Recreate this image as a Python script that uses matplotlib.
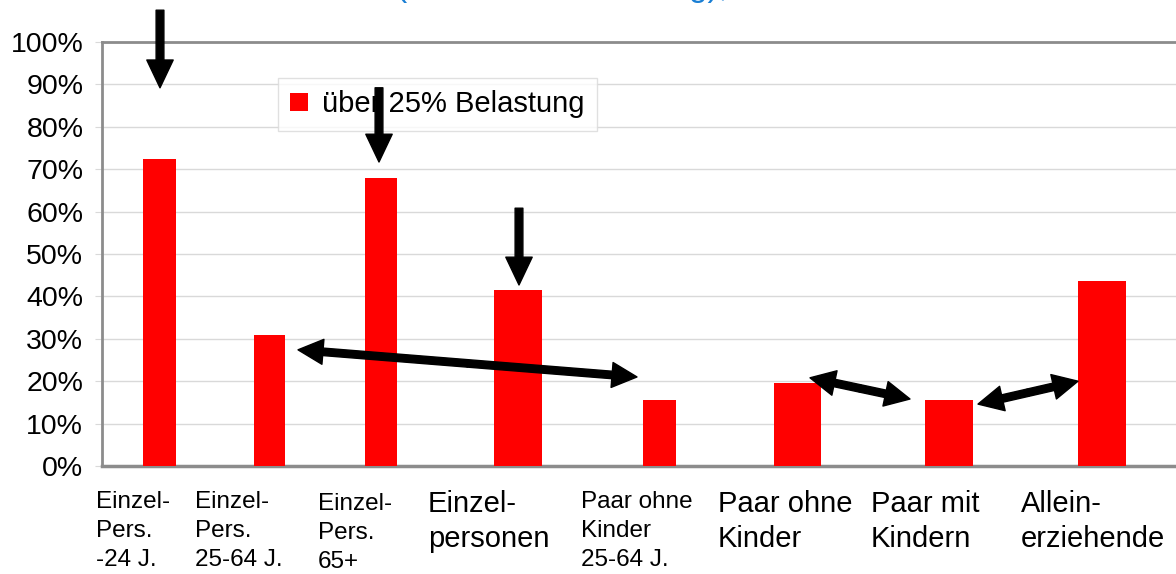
import matplotlib.pyplot as plt

plt.rcParams['font.family'] = ['Liberation Sans', 'DejaVu Sans']

categories = [
    "Einzel-\nPers.\n-24 J.",
    "Einzel-\nPers.\n25-64 J.",
    "Einzel-\nPers.\n65+",
    "Einzel-\npersonen",
    "Paar ohne\nKinder\n25-64 J.",
    "Paar ohne\nKinder",
    "Paar mit\nKindern",
    "Allein-\nerziehende",
]
share_over_25 = [72.4, 30.9, 67.9, 41.5, 15.6, 19.6, 15.6, 43.6]
y_ticks = list(range(0, 101, 10))
legend_label = "über 25% Belastung"
title_text = "(über 25% Belastung),"

# layout (x in pixel-like units from the left spine)
bar_x = [57.5, 167.5, 279, 416, 557.5, 695.5, 847, 1000]
bar_w = [33, 31, 32, 48, 33, 47, 48, 48]
label_x = [96, 195, 318, 428, 581, 718, 871, 1021]
label_top = [491, 491, 493, 490, 491, 490, 490, 490]
label_size = [17.5, 17.5, 17.5, 21, 17.5, 21, 21, 21]
label_ls = [1.42, 1.42, 1.42, 1.33, 1.42, 1.33, 1.33, 1.33]

W, H = 1176, 574
fig = plt.figure(figsize=(W / 100, H / 100), dpi=100)
ax = fig.add_axes([102 / W, (H - 466) / H, 1074 / W, 424 / H])

ax.bar(bar_x, share_over_25, width=bar_w, color='#ff0000', zorder=3,
       label=legend_label)

ax.set_xlim(0, 1074)
ax.set_ylim(0, 100)
ax.set_yticks(y_ticks)
ax.set_yticklabels([f"{t}%" for t in y_ticks], fontsize=20.5)
ax.set_xticks([])
ax.tick_params(axis='y', length=5, color='#d9d9d9', pad=8.5)
ax.grid(axis='y', color='#d9d9d9', linewidth=1, zorder=0)
ax.spines['right'].set_visible(False)
ax.spines['top'].set_color('#8c8c8c')
ax.spines['top'].set_linewidth(2)
ax.spines['left'].set_color('#8c8c8c')
ax.spines['left'].set_linewidth(2)
ax.spines['bottom'].set_color('#8c8c8c')
ax.spines['bottom'].set_linewidth(2.5)

for lab, lx, lt, fs, ls in zip(categories, label_x, label_top, label_size, label_ls):
    fig.text(lx / W, 1 - lt / H, lab, ha='left', va='top', fontsize=fs,
             linespacing=ls, color='black')

# title sits mostly above the top edge, only descenders show
fig.text(396 / W, 1 + 4 / H, title_text, ha='left', va='baseline',
         fontsize=24, color='#1a7fd4')

leg = ax.legend(loc='upper left', bbox_to_anchor=(0.164, 0.915), fontsize=21,
                frameon=True, fancybox=False, edgecolor='#d9d9d9',
                handlelength=0.6, handleheight=0.6, handletextpad=0.5,
                borderpad=0.42, borderaxespad=0)
leg.get_frame().set_linewidth(1)
leg.set_zorder(5)

single = dict(arrowstyle='simple,head_length=1.0,head_width=0.95,tail_width=0.28',
              mutation_scale=20, color='black', shrinkA=0, shrinkB=0)
down_arrows = [((58, 107.5), (58, 89.2)),
               ((277, 89.2), (277, 71.7)),
               ((417, 60.8), (417, 42.7))]
for tail, head in down_arrows:
    ax.annotate('', xy=head, xytext=tail, arrowprops=single, zorder=6,
                annotation_clip=False)

double = dict(arrowstyle='simple,head_length=0.9,head_width=0.9,tail_width=0.27',
              mutation_scale=20, color='black', shrinkA=0, shrinkB=0)
double_arrows = [((196, 27.4), (535, 21.0)),
                 ((708, 20.8), (808, 15.8)),
                 ((876, 14.6), (976, 20.0))]
for a, b in double_arrows:
    mid = ((a[0] + b[0]) / 2, (a[1] + b[1]) / 2)
    for end in (a, b):
        ax.annotate('', xy=end, xytext=mid, arrowprops=double, zorder=6)

fig.savefig('out.png', dpi=100)
